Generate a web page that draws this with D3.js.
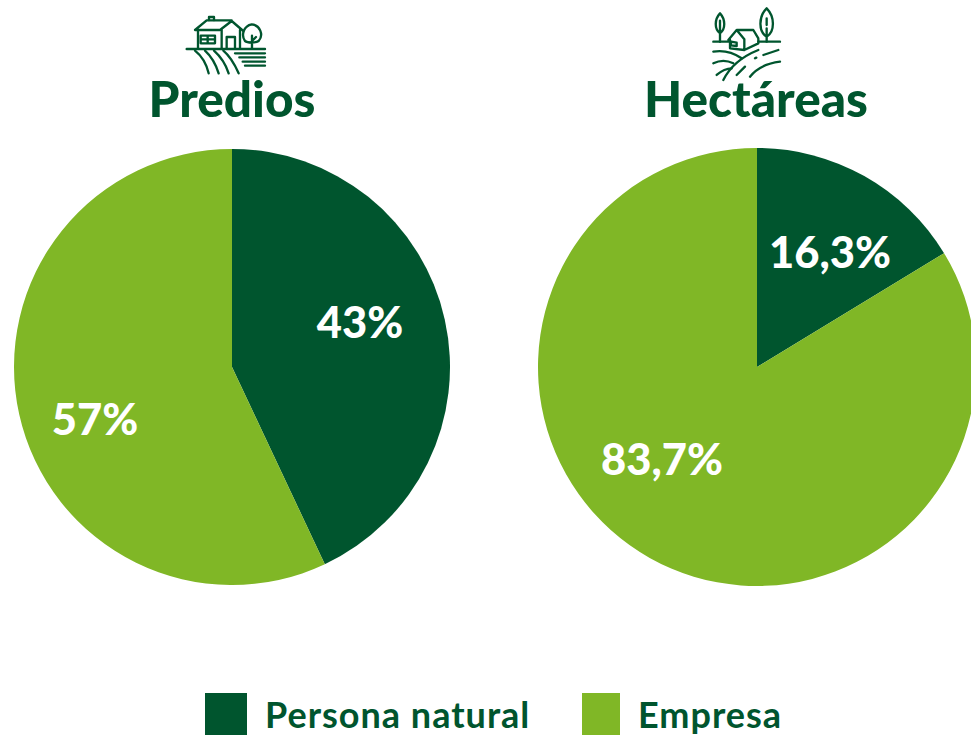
<!DOCTYPE html>
<html>
<head>
<meta charset="utf-8">
<script src="https://cdn.jsdelivr.net/npm/d3@7"></script>
<style>
html, body { margin: 0; padding: 0; background: #fff; overflow: hidden; }
text { font-family: Lato, "Open Sans", sans-serif; font-weight: 700; }
</style>
</head>
<body>
<div id="chart"></div>
<script>
// chart values
var categories = ['Persona natural', 'Empresa'];
var titles = ['Predios', 'Hectáreas'];
var predios = [43, 57];
var hectareas = [16.3, 83.7];
var prediosLabels = ['43%', '57%'];
var hectareasLabels = ['16,3%', '83,7%'];

var darkGreen = '#00552e';
var lightGreen = '#80b726';

var svg = d3.select('#chart').append('svg').attr('width', 971).attr('height', 735);
var color = d3.scaleOrdinal().domain(categories).range([darkGreen, lightGreen]);
var pie = d3.pie().sort(null);

function drawPie(values, labels, title, cx, cy, r, labelPos, labelSize) {
    var g = svg.append('g').attr('transform', 'translate(' + cx + ',' + cy + ')');
    var arc = d3.arc().innerRadius(0).outerRadius(r);

    g.selectAll('path')
      .data(pie(values))
      .enter().append('path')
      .attr('d', arc)
      .attr('fill', function(d, i) { return color(categories[i]); });

    g.selectAll('text.value')
      .data(labels)
      .enter().append('text')
      .attr('class', 'value')
      .attr('x', function(d, i) { return labelPos[i][0]; })
      .attr('y', function(d, i) { return labelPos[i][1]; })
      .attr('text-anchor', 'middle')
      .attr('font-size', labelSize)
      .style('font-weight', 900)
      .attr('fill', '#fff')
      .text(function(d) { return d; });

    svg.append('text')
      .attr('x', cx - (title == 'Predios' ? 0 : 1))
      .attr('y', 117)
      .attr('text-anchor', 'middle')
      .attr('font-size', 49.5)
      .style('font-weight', 900)
      .attr('fill', darkGreen)
      .text(title);
}

drawPie(predios, prediosLabels, titles[0], 232, 367, 218, [[128, -29], [-137, 68]], 43.5);
drawPie(hectareas, hectareasLabels, titles[1], 757, 367, 219, [[73, -99], [-95, 108]], 43.5);

// little line icons above the titles, paths are in 3x units
function icon(x, y, paths) {
    svg.append('g')
      .attr('transform', 'translate(' + x + ',' + y + ') scale(0.3333)')
      .attr('fill', 'none')
      .attr('stroke', darkGreen)
      .attr('stroke-width', 7)
      .attr('stroke-linecap', 'round')
      .attr('stroke-linejoin', 'round')
      .selectAll('path')
      .data(paths)
      .enter().append('path')
      .attr('d', function(d) { return d; });
}

icon(170, 5, [
    'M75 75L110 46H185M75 75H150L185 48L220 78',
    'M84 75V130M155 75V130M210 75V130',
    'M117 45V36H132V45',
    'M92 92H135V115H92ZM113 92V115M92 103H135',
    'M170 130V96H195V130',
    'M225 108C212 90 222 62 245 58C270 60 282 90 266 108C258 114 232 114 225 108ZM246 130V92M246 108L258 96',
    'M50 132H285',
    'M75 137C98 155 110 180 116 205M105 137C125 155 138 180 146 205M132 137C152 155 168 180 176 205M160 137C178 152 195 180 206 205',
    'M195 145H285M208 157H285M218 170H285M225 182H285'
]);

icon(695, 0, [
    'M75 40C58 58 58 88 75 100C92 88 92 58 75 40ZM75 62V125',
    'M215 25C190 50 190 95 215 110C240 95 240 50 215 25ZM215 55V75M215 85V125',
    'M55 125H100M190 125H255',
    'M100 120L125 90H175L190 115M125 90L148 118V150M105 120V145L148 150L190 130V115',
    'M108 125L125 128V138L108 136Z',
    'M55 155C85 150 115 158 140 175',
    'M55 190C75 180 95 180 115 190',
    'M65 225C80 212 95 205 110 205',
    'M190 150C140 170 105 200 85 240',
    'M150 200L125 225',
    'M205 165L250 150M180 175L184 173',
    'M255 185C215 190 185 205 165 230'
]);

// legend
var legendX = [205, 582];
var legendW = [42, 38];
var legendTextX = [265, 638];
var legend = svg.selectAll('g.legend')
  .data(categories)
  .enter().append('g')
  .attr('class', 'legend');

legend.append('rect')
  .attr('x', function(d, i) { return legendX[i]; })
  .attr('y', 693)
  .attr('width', function(d, i) { return legendW[i]; })
  .attr('height', 42)
  .attr('fill', function(d) { return color(d); });

legend.append('text')
  .attr('x', function(d, i) { return legendTextX[i]; })
  .attr('y', 728)
  .attr('font-size', 36)
  .attr('letter-spacing', 1)
  .style('font-weight', 700)
  .attr('fill', darkGreen)
  .text(function(d) { return d; });
</script>
</body>
</html>
